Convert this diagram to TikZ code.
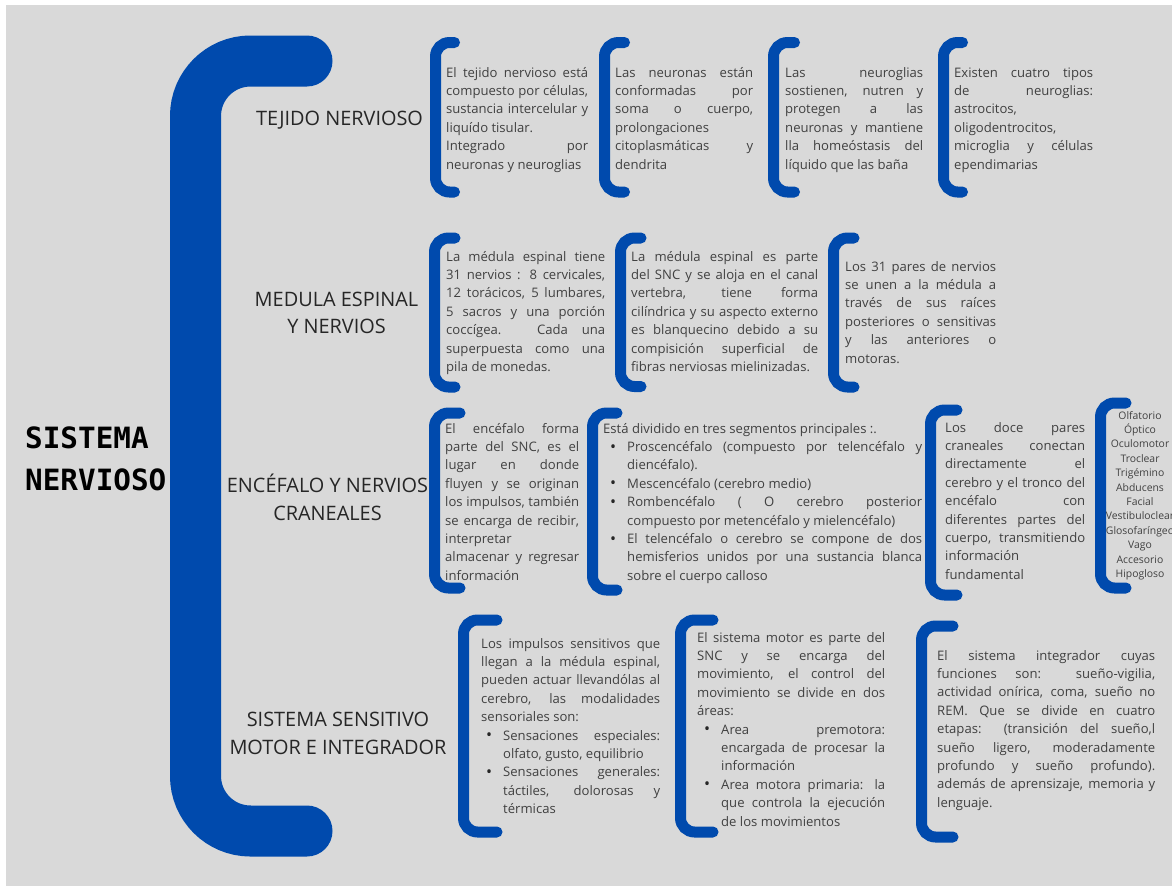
\documentclass[tikz,border=0pt]{standalone}
\usepackage{fontspec}
\setmainfont{Open Sans}
\newfontfamily\monofont{DejaVu Sans Mono}
\usepackage{enumitem}
\setlist[itemize]{nosep,leftmargin=23pt,labelsep=11pt,label={\color{black!85}\raisebox{-0.6pt}{\fontsize{16}{16}\selectfont\textbullet}}}

\definecolor{nblue}{HTML}{004AAD}
\definecolor{bggray}{HTML}{D9D9D9}
\definecolor{txtgray}{HTML}{404040}
\newcommand{\bodyfont}{\fontsize{13.1}{18.4}\selectfont\hyphenpenalty=10000\tolerance=10000\hbadness=10000}
\newcommand{\sbrack}[4]{\draw[brk] (#4,#2) -- (#1,#2) -- (#1,#3) -- (#4,#3);}

\begin{document}
\begin{tikzpicture}[x=1pt,y=-1pt,
    txt/.style={anchor=base west, inner sep=0pt, align=justify, text=txtgray, font=\bodyfont},
    head/.style={align=center, inner sep=0pt, text=black!85, font=\fontsize{19.9}{27.5}\selectfont},
    brk/.style={draw=nblue, line width=11pt, line cap=round, rounded corners=14pt}]

  \useasboundingbox (0,0) rectangle (1172,886);
  \fill[bggray] (6,5) rectangle (1172,886);

  % big bracket
  \draw[nblue, line width=51pt, line cap=round, rounded corners=55pt]
    (307,61) -- (195.5,61) -- (195.5,831) -- (307,831);

  \node [anchor=west, align=left, inner sep=0pt, font=\monofont\bfseries\fontsize{29.3}{42}\selectfont] (title) at (25,459) {SISTEMA\\NERVIOSO};

  \node [head] (tejido) at (339.5,120.5) {TEJIDO NERVIOSO};
  \node [head] (medula) at (336.5,313) {MEDULA ESPINAL\\Y NERVIOS};
  \node [head] (encefalo) at (327.5,497.5) {ENCÉFALO Y NERVIOS\\CRANEALES};
  \node [head] (sensitivo) at (338,733.5) {SISTEMA SENSITIVO\\MOTOR E INTEGRADOR};

  % tejido nervioso
  \sbrack{435.5}{42.5}{192}{454.5}
  \sbrack{604.5}{42.5}{192}{624.5}
  \sbrack{773.5}{42.5}{192}{794.5}
  \sbrack{943.5}{42.5}{192}{962.5}
  \node [txt, text width=142pt] (t1) at (446,77) {El tejido nervioso está\linebreak compuesto por células,\linebreak sustancia intercelular y\linebreak liquído tisular.\par Integrado por\linebreak neuronas y neuroglias};
  \node [txt, text width=138pt] (t2) at (615,77) {Las neuronas están\linebreak conformadas por\linebreak soma o cuerpo,\linebreak prolongaciones\linebreak citoplasmáticas y\linebreak dendrita};
  \node [txt, text width=138pt] (t3) at (785,77) {Las neuroglias\linebreak sostienen, nutren y\linebreak protegen a las\linebreak neuronas y mantiene\linebreak lla homeóstasis del\linebreak líquido que las baña};
  \node [txt, text width=139pt] (t4) at (954,77) {Existen cuatro tipos\linebreak de neuroglias:\linebreak astrocitos,\newline oligodentrocitos,\newline microglia y células\linebreak ependimarias};

  % medula espinal
  \sbrack{434.5}{238}{387}{455}
  \sbrack{620.5}{238}{386.5}{641}
  \sbrack{833.5}{238}{387}{854}
  \node [txt, text width=159pt] (m1) at (446,261) {La médula espinal tiene\linebreak 31 nervios : 8 cervicales,\linebreak 12 torácicos, 5 lumbares,\linebreak 5 sacros y una porción\linebreak coccígea. Cada una\linebreak superpuesta como una\linebreak pila de monedas.};
  \node [txt, text width=187pt] (m2) at (631,261) {La médula espinal es parte\linebreak del SNC y se aloja en el canal\linebreak vertebra, tiene forma\linebreak cilíndrica y su aspecto externo\linebreak es blanquecino debido a su\linebreak compisición superficial de\linebreak fibras nerviosas mielinizadas.};
  \node [txt, text width=151pt] (m3) at (845,271) {Los 31 pares de nervios\linebreak se unen a la médula a\linebreak través de sus raíces\linebreak posteriores o sensitivas\linebreak y las anteriores o\linebreak motoras.};

  % encefalo
  \sbrack{434.5}{413}{588}{460}
  \sbrack{592.5}{413}{590}{617}
  \sbrack{930.5}{410}{595}{957}
  \sbrack{1100.5}{403}{588}{1126}
  \node [txt, text width=134pt] (e1) at (445,433) {El encéfalo forma\linebreak parte del SNC, es el\linebreak lugar en donde\linebreak fluyen y se originan\linebreak los impulsos, también\linebreak se encarga de recibir,\linebreak interpretar\newline almacenar y regresar\linebreak información};
  \node [txt, text width=319pt] (e2) at (603,433) {Está dividido en tres segmentos principales :.
    \begin{itemize}[leftmargin=24pt]
      \item Proscencéfalo (compuesto por telencéfalo y\linebreak diencéfalo).
      \item Mescencéfalo (cerebro medio)
      \item Rombencéfalo ( O cerebro posterior\linebreak compuesto por metencéfalo y mielencéfalo)
      \item El telencéfalo o cerebro se compone de dos\linebreak hemisferios unidos por una sustancia blanca\linebreak sobre el cuerpo calloso
    \end{itemize}};
  \node [txt, text width=140pt] (e3) at (945,432) {Los doce pares\linebreak craneales conectan\linebreak directamente el\linebreak cerebro y el tronco del\linebreak encéfalo con\linebreak diferentes partes del\linebreak cuerpo, transmitiendo\linebreak información\newline fundamental};
  \node [align=center, inner sep=0pt, text=txtgray, font=\fontsize{10.4}{14.4}\selectfont] (e4) at (1140,495.5) {Olfatorio\\Óptico\\Oculomotor\\Troclear\\Trigémino\\Abducens\\Facial\\Vestibuloclear\\Glosofaríngeo\\Vago\\Accesorio\\Hipogloso};

  % sistema sensitivo, motor e integrador
  \sbrack{463.5}{620}{832}{497}
  \sbrack{680.5}{620}{832}{713}
  \sbrack{921.5}{626}{837}{953}
  \node [txt, text width=179pt] (s1) at (481,648) {Los impulsos sensitivos que\linebreak llegan a la médula espinal,\linebreak pueden actuar llevandólas al\linebreak cerebro, las modalidades\linebreak sensoriales son:
    \begin{itemize}[leftmargin=22pt]
      \item Sensaciones especiales:\linebreak olfato, gusto, equilibrio
      \item Sensaciones generales:\linebreak táctiles, dolorosas y\linebreak térmicas
    \end{itemize}};
  \node [txt, text width=188pt] (s2) at (697,642) {El sistema motor es parte del\linebreak SNC y se encarga del\linebreak movimiento, el control del\linebreak movimiento se divide en dos\linebreak áreas:
    \begin{itemize}[leftmargin=24pt]
      \item Area premotora:\linebreak encargada de procesar la\linebreak información
      \item Area motora primaria: la\linebreak que controla la ejecución\linebreak de los movimientos
    \end{itemize}};
  \node [txt, text width=218pt] (s3) at (937,660) {El sistema integrador cuyas\linebreak funciones son: sueño-vigilia,\linebreak actividad onírica, coma, sueño no\linebreak REM. Que se divide en cuatro\linebreak etapas: (transición del sueño,l\linebreak sueño ligero, moderadamente\linebreak profundo y sueño profundo).\linebreak además de aprensizaje, memoria y\linebreak lenguaje.};
\end{tikzpicture}
\end{document}
